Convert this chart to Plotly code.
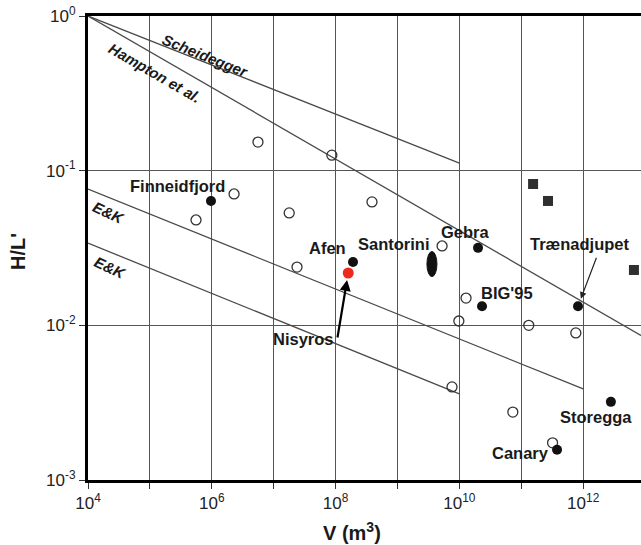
import numpy as np
import plotly.graph_objects as go

# ---------------- data ----------------
open_v = [5.57e6, 2.29e6, 5.56e5, 1.78e7, 2.38e7, 8.7e7, 3.87e8, 5.25e9, 1.28e10,
          9.8e9, 1.32e11, 7.6e11, 7.6e9, 7.3e10, 3.2e11]
open_hl = [0.153, 0.0707, 0.048, 0.0533, 0.0238, 0.126, 0.0628, 0.0326, 0.0150,
           0.01067, 0.0100, 0.00893, 0.0040, 0.00275, 0.00174]

named = ["Finneidfjord", "Afen", "Gebra", "BIG'95", "Trænadjupet", "Storegga", "Canary"]
named_v = [9.7e5, 1.91e8, 2.0e10, 2.32e10, 8.24e11, 2.8e12, 3.78e11]
named_hl = [0.0637, 0.0257, 0.0317, 0.0133, 0.0133, 0.0032, 0.00157]

nisyros_v = [1.6e8]
nisyros_hl = [0.0218]

santorini_v = 3.6e9
santorini_hl = 0.0249

square_v = [1.55e11, 2.7e11, 6.6e12]
square_hl = [0.082, 0.0637, 0.0228]

# reference lines
scheid_v = [1e4, 1e10]
scheid_hl = [1.0, 0.112]
hampton_v = [1e4, 1e13]
hampton_hl = [1.0, 0.0083]
ek1_v = [1e4, 1e12]
ek1_hl = [0.076, 0.00388]
ek2_v = [1e4, 1e10]
ek2_hl = [0.034, 0.0036]

x_major = [1e4, 1e6, 1e8, 1e10, 1e12]
x_ticktext = ["10<sup>4</sup>", "10<sup>6</sup>", "10<sup>8</sup>",
              "10<sup>10</sup>", "10<sup>12</sup>"]
x_minor = [1e5, 1e7, 1e9, 1e11, 1e13]
y_ticks = [1e-3, 1e-2, 1e-1, 1e0]
y_ticktext = ["10<sup>-3</sup>", "10<sup>-2</sup>", "10<sup>-1</sup>", "10<sup>0</sup>"]

# ---------------- layout geometry ----------------
W, H = 641, 545
L, T, B, R = 88, 16, 65, 0
PW, PH = W - L - R, H - T - B
PX_PER_DEC_X = 61.9
PX_PER_DEC_Y = PH / 3.0


def px2paper(px, py):
    return (px - L) / PW, (H - B - py) / PH


LINE_COL = "#4a4a4a"
GRID_COL = "#555555"
FONT = "Liberation Sans, Arial, sans-serif"

fig = go.Figure()

for xs, ys in [(scheid_v, scheid_hl), (hampton_v, hampton_hl), (ek1_v, ek1_hl), (ek2_v, ek2_hl)]:
    fig.add_trace(go.Scatter(x=xs, y=ys, mode="lines",
                             line=dict(color=LINE_COL, width=1.3),
                             showlegend=False, hoverinfo="skip"))

fig.add_trace(go.Scatter(x=open_v, y=open_hl, mode="markers",
                         marker=dict(symbol="circle-open", size=10,
                                     color="#333333", line=dict(width=1.3)),
                         showlegend=False))
fig.add_trace(go.Scatter(x=square_v, y=square_hl, mode="markers",
                         marker=dict(symbol="square", size=10, color="#2f2f2f"),
                         showlegend=False))
fig.add_trace(go.Scatter(x=named_v, y=named_hl, mode="markers",
                         marker=dict(symbol="circle", size=10, color="#111111"),
                         showlegend=False))
fig.add_trace(go.Scatter(x=nisyros_v, y=nisyros_hl, mode="markers",
                         marker=dict(symbol="circle", size=11, color="#ee2a1e"),
                         showlegend=False))

# Santorini ellipse (half-width 5 px, half-height 12.5 px)
hw = 5.0 / PX_PER_DEC_X
hh = 12.5 / PX_PER_DEC_Y
fig.add_shape(type="circle", xref="x", yref="y",
              x0=santorini_v / 10 ** hw, x1=santorini_v * 10 ** hw,
              y0=santorini_hl / 10 ** hh, y1=santorini_hl * 10 ** hh,
              fillcolor="#111111", line=dict(color="#111111", width=1))

label_font = dict(family=FONT, size=16.5, color="#1a1a1a")

# point labels: offsets in pixels (dx right, dy up)
label_offsets = {
    "Finneidfjord": (-33, 15),
    "Afen": (-26, 14),
    "Gebra": (-13, 16),
    "BIG'95": (25, 13),
    "Trænadjupet": (2, 62),
    "Storegga": (-15, -15),
    "Canary": (-37, -3),
}
for name, v, hl in zip(named, named_v, named_hl):
    dx, dy = label_offsets[name]
    fig.add_annotation(x=np.log10(v), y=np.log10(hl), text="<b>%s</b>" % name,
                       showarrow=False, xshift=dx, yshift=dy, font=label_font,
                       xanchor="center", yanchor="middle")

fig.add_annotation(x=np.log10(santorini_v), y=np.log10(santorini_hl), text="<b>Santorini</b>",
                   showarrow=False, xshift=-38, yshift=20, font=label_font,
                   xanchor="center", yanchor="middle")

# Nisyros label + arrow
fig.add_annotation(x=np.log10(nisyros_v[0]), y=np.log10(nisyros_hl[0]), text="<b>Nisyros</b>",
                   showarrow=False, xshift=-45, yshift=-66, font=label_font,
                   xanchor="center", yanchor="middle")
fig.add_annotation(x=np.log10(nisyros_v[0]), y=np.log10(nisyros_hl[0]), text="",
                   showarrow=True, ax=-11, ay=66, standoff=7, arrowhead=2,
                   arrowsize=1, arrowwidth=2.2, arrowcolor="#000000")

# Trænadjupet arrow
tr_i = named.index("Trænadjupet")
fig.add_annotation(x=np.log10(named_v[tr_i]), y=np.log10(named_hl[tr_i]), text="",
                   showarrow=True, ax=19, ay=-50, standoff=8, arrowhead=2,
                   arrowsize=1.1, arrowwidth=1.2, arrowcolor="#222222")

# line labels
line_font = dict(family=FONT, size=15, color="#1a1a1a")
for txt, (px, py), ang in [("Scheidegger", (205, 55), 22),
                           ("Hampton et al.", (154, 73), 30),
                           ("E&K", (108, 213), 25),
                           ("E&K", (110, 267), 25)]:
    xp, yp = px2paper(px, py)
    fig.add_annotation(x=xp, y=yp, xref="paper", yref="paper",
                       text="<b><i>%s</i></b>" % txt.replace("&", "&amp;"),
                       showarrow=False, textangle=ang, font=line_font,
                       xanchor="center", yanchor="middle")

# axis titles
xp, yp = px2paper(18, 252)
fig.add_annotation(x=xp, y=yp, xref="paper", yref="paper", text="<b>H/L'</b>",
                   showarrow=False, textangle=-90, xanchor="center", yanchor="middle",
                   font=dict(family=FONT, size=20, color="#1a1a1a"))
xp, yp = px2paper(352, 531)
fig.add_annotation(x=xp, y=yp, xref="paper", yref="paper", text="<b>V (m<sup>3</sup>)</b>",
                   showarrow=False, xanchor="center", yanchor="middle",
                   font=dict(family=FONT, size=20, color="#1a1a1a"))

fig.update_layout(
    width=W, height=H,
    margin=dict(l=L, r=R, t=T, b=B, pad=0),
    paper_bgcolor="white", plot_bgcolor="white",
    showlegend=False,
    xaxis=dict(type="log", range=[4, 4 + PW / PX_PER_DEC_X],
               tickmode="array", tickvals=x_major, ticktext=x_ticktext,
               showgrid=True, gridcolor=GRID_COL, gridwidth=1.2,
               minor=dict(tickmode="array", tickvals=x_minor, ticks="outside", ticklen=6,
                          tickwidth=1.3, tickcolor="#333333",
                          showgrid=True, gridcolor=GRID_COL, gridwidth=1.2),
               showline=True, linecolor="black", linewidth=3, mirror=True,
               ticks="outside", ticklen=6, tickwidth=1.3, tickcolor="#333333",
               tickfont=dict(family=FONT, size=17, color="#222222"),
               zeroline=False, automargin=False),
    yaxis=dict(type="log", range=[-3, 0], tickmode="array",
               tickvals=y_ticks, ticktext=y_ticktext,
               showgrid=True, gridcolor=GRID_COL, gridwidth=1.2,
               showline=True, linecolor="black", linewidth=3, mirror=False,
               ticks="outside", ticklen=6, tickwidth=1.3, tickcolor="#333333",
               tickfont=dict(family=FONT, size=17, color="#222222"),
               zeroline=False, automargin=False),
)

fig.write_html("out.html")
